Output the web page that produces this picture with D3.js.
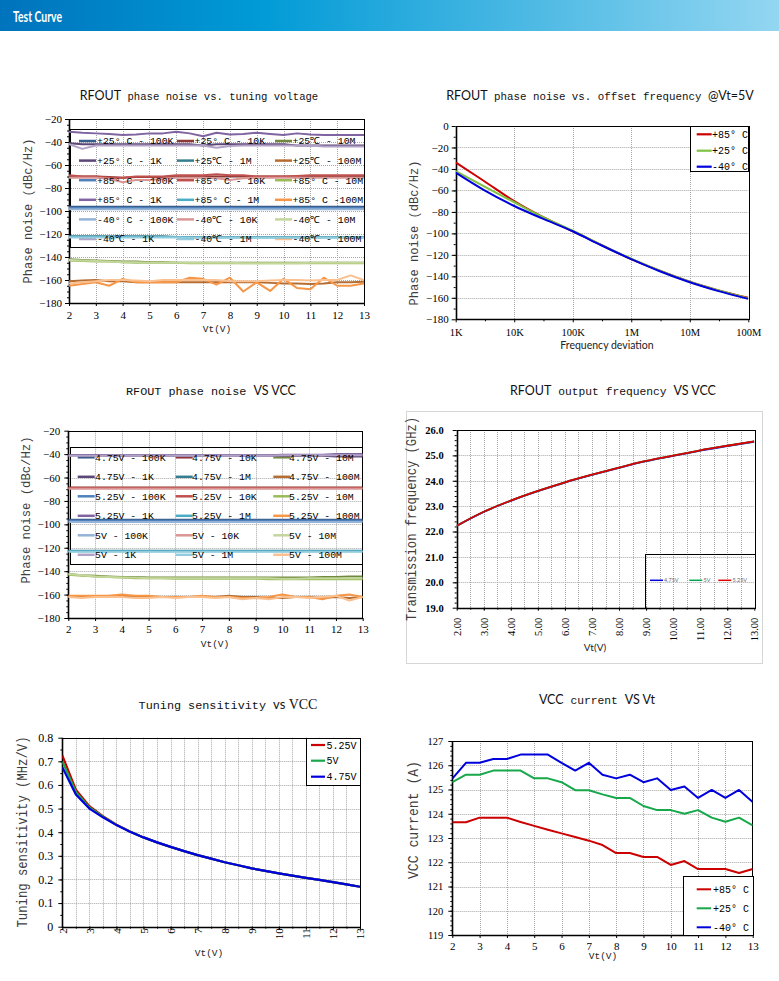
<!DOCTYPE html>
<html><head><meta charset="utf-8">
<script src="https://cdn.jsdelivr.net/npm/d3@7"></script>
<style>body{margin:0;background:#fff}svg{display:block}</style>
</head><body>
<script>
const MONO="'Liberation Mono','DejaVu Sans Mono',monospace";
const SERIF="'Liberation Serif','DejaVu Serif',serif";
const SANS="Lato,'Open Sans','Liberation Sans',sans-serif";

// ---------- shared x values ----------
const VT=[2,2.5,3,3.5,4,4.5,5,5.5,6,6.5,7,7.5,8,8.5,9,9.5,10,10.5,11,11.5,12,12.5,13];
const VT_INT=[2,3,4,5,6,7,8,9,10,11,12,13];

// ---------- Panel 1: phase noise vs tuning voltage ----------
const p1_names=["+25° C - 100K","+25° C - 10K","+25℃ - 10M","+25° C - 1K","+25℃ - 1M","+25℃ - 100M",
  "+85° C - 100K","+85° C - 10K","+85° C - 10M","+85° C - 1K","+85° C - 1M","+85° C -100M",
  "-40° C - 100K","-40℃ - 10K","-40℃ - 10M","-40℃ - 1K","-40℃ - 1M","-40℃ - 100M"];
const p1_colors=["#385D8A","#8C3836","#71893F","#5C4776","#357D91","#B66D31",
  "#4F81BD","#C0504D","#9BBB59","#8064A2","#4BACC6","#F79646",
  "#95B3D7","#D99694","#C3D69B","#B3A2C7","#93CDDD","#FAC090"];
const p1_25_100K=[-96.3,-96.3,-96.3,-96.3,-96.3,-96.3,-96.3,-96.3,-96.3,-96.3,-96.3,-96.3,-96.3,-96.3,-96.3,-96.3,-96.3,-96.3,-96.3,-96.3,-96.3,-96.3,-96.3];
const p1_25_10K=[-70,-70,-70,-70.5,-71,-70.5,-70.5,-70.5,-70,-70,-70,-70,-70,-70,-70,-70,-70,-70,-70,-70,-70,-70,-69.5];
const p1_25_10M=[-142,-142.5,-143,-143.5,-144,-144,-144.5,-144.5,-145,-145,-145,-145,-145,-145,-145,-145,-145,-145,-145,-145,-145,-145,-145];
const p1_25_1K=[-41,-42,-42,-42,-42,-42,-42,-42,-42,-42,-43,-42,-42,-42,-42,-42,-42,-43,-43,-43,-43,-43,-43];
const p1_25_1M=[-122,-122,-122,-122,-122,-122,-122,-122,-122.5,-122.5,-122.5,-122.5,-122.5,-122.5,-122.5,-122.5,-122.5,-122.5,-122.5,-122.5,-122.5,-122.5,-122.5];
const p1_25_100M=[-161,-160.5,-160,-161,-161,-162,-162,-162,-162,-162,-162,-162,-162,-162,-162,-162.5,-163,-163,-163.5,-163,-162,-162,-161.5];
const p1_85_100K=[-97.3,-97.3,-97.3,-97.3,-97.3,-97.3,-97.3,-97.3,-97.3,-97.3,-97.3,-97.3,-97.3,-97.3,-97.3,-97.3,-97.3,-97.3,-97.3,-97.3,-97.3,-97.3,-97.3];
const p1_85_10K=[-69,-70,-70,-71,-71,-70,-70,-70,-69,-69,-69,-68,-69,-69,-70,-70,-70,-69.5,-69,-69,-69,-69,-69];
const p1_85_10M=[-143,-143.5,-144,-144,-144.5,-145,-145,-145,-145,-145.5,-145.5,-145.5,-145.5,-145.5,-145.5,-145.5,-145.5,-145.5,-145.5,-145.5,-145.5,-145.5,-145.5];
const p1_85_1K=[-31,-32,-32.5,-33,-34,-33.5,-32.5,-32.5,-31,-32.5,-35,-32,-33.5,-33,-32,-33,-34,-32.5,-33.5,-34,-34,-34,-34];
const p1_85_1M=[-122.5,-122.5,-122.5,-122.5,-122.5,-122.5,-122.5,-122.5,-122.5,-123,-123,-123,-123,-123,-123,-123,-123,-123,-123,-123,-123,-123,-123];
const p1_85_100M=[-165,-163.5,-162,-165,-159,-162,-162,-162,-162,-158,-159,-164,-158,-170,-162,-169.5,-159,-167,-168,-158,-165,-165,-163];
const p1_m40_100K=[-98.4,-98.4,-98.4,-98.4,-98.4,-98.4,-98.4,-98.4,-98.4,-98.4,-98.4,-98.4,-98.4,-98.4,-98.4,-98.4,-98.4,-98.4,-98.4,-98.4,-98.4,-98.4,-98.4];
const p1_m40_10K=[-71,-71,-71,-72,-75,-73,-73,-72,-71,-71,-71,-71.5,-73,-71.5,-71,-71,-71,-71,-71,-71,-71,-71,-71];
const p1_m40_10M=[-142.5,-143,-143.5,-144,-144.5,-144.5,-145,-145,-145,-145,-145,-145,-145,-145.5,-145.5,-145.5,-145.5,-145.5,-145,-145,-145,-145,-145];
const p1_m40_1K=[-42,-46,-43,-43,-43,-43,-43,-43,-43,-43,-43,-45,-43.5,-43,-43,-43,-43,-43,-43,-44,-44,-44,-44];
const p1_m40_1M=[-123,-123,-123,-123,-123,-123,-123,-123,-123,-123,-123,-123,-123,-123,-123,-123,-123,-123,-123,-123,-123,-123,-123];
const p1_m40_100M=[-163,-162,-161,-160,-160,-160.5,-161,-160,-160,-160,-160,-160,-161,-161,-161,-160.5,-160,-160,-160.5,-160,-160,-156,-160];
const p1_values=[p1_25_100K,p1_25_10K,p1_25_10M,p1_25_1K,p1_25_1M,p1_25_100M,
  p1_85_100K,p1_85_10K,p1_85_10M,p1_85_1K,p1_85_1M,p1_85_100M,
  p1_m40_100K,p1_m40_10K,p1_m40_10M,p1_m40_1K,p1_m40_1M,p1_m40_100M];

// ---------- Panel 2: phase noise vs offset ----------
const p2_offsets=[1e3,3e3,1e4,3e4,1e5,3e5,1e6,3e6,1e7,3e7,1e8];
const p2_tickVals=[1e3,1e4,1e5,1e6,1e7,1e8];
const p2_tickLabels=["1K","10K","100K","1M","10M","100M"];
const p2_names=["+85° C","+25° C","-40° C"];
const p2_colors=["#CC0000","#7DC242","#0000DD"];
const p2_85=[-34,-51,-70,-84.5,-98,-110.5,-124,-134.5,-145,-152.8,-160];
const p2_25=[-42,-56,-71,-84.5,-97.5,-110.5,-123.5,-134.5,-145,-153,-160.5];
const p2_m40=[-43.5,-59.5,-74.5,-86,-98,-110.8,-124,-135,-145.5,-153.5,-161];

// ---------- Panel 3: phase noise vs VCC ----------
const p3_names=["4.75V - 100K","4.75V - 10K","4.75V - 10M","4.75V - 1K","4.75V - 1M","4.75V - 100M",
  "5.25V - 100K","5.25V - 10K","5.25V - 10M","5.25V - 1K","5.25V - 1M","5.25V - 100M",
  "5V - 100K","5V - 10K","5V - 10M","5V - 1K","5V - 1M","5V - 100M"];
const p3_colors=p1_colors;
const p3_475_100K=[-96,-96,-96,-96,-96,-96,-96,-96,-96,-96,-96,-96,-96,-96,-96,-96,-96,-96,-96,-96,-96,-96,-96];
const p3_475_10K=[-68.5,-68.5,-68.5,-68.5,-68.5,-68.5,-68.5,-68.5,-68.5,-68.5,-68.5,-68.5,-68.5,-68.5,-68.5,-68.5,-68.5,-68.5,-68.5,-68.5,-68.5,-68.5,-68.5];
const p3_475_10M=[-142.5,-143.5,-144,-144.5,-145,-145,-145.5,-145.5,-145.5,-145.5,-145.5,-145.5,-145.5,-145.5,-145.5,-145.5,-145.5,-145.5,-145.5,-145,-145,-144.5,-144.5];
const p3_475_1K=[-41,-41,-41,-41.5,-41.5,-41.5,-41.5,-41.5,-41.5,-41.5,-41.5,-41.5,-41.5,-41.5,-41.5,-41.5,-41.5,-41.5,-41.5,-41.5,-42,-42,-42];
const p3_475_1M=[-122.5,-122.5,-122.5,-122.5,-122.5,-122.5,-122.5,-122.5,-122.5,-122.5,-122.5,-122.5,-122.5,-122.5,-122.5,-122.5,-122.5,-122.5,-122.5,-122.5,-122.5,-122.5,-122.5];
const p3_475_100M=[-162,-162,-161.5,-161.5,-161,-162,-162,-162,-162,-162,-162,-162,-161,-162,-162,-163,-163,-162,-162,-163,-162,-163,-162];
const p3_525_100K=[-97,-97,-97,-97,-97,-97,-97,-97,-97,-97,-97,-97,-97,-97,-97,-97,-97,-97,-97,-97,-97,-97,-97];
const p3_525_10K=[-69,-69,-69,-69,-69,-69,-69,-69,-69,-69,-69,-69,-69,-69,-69,-69,-69,-69,-69,-69,-69,-69,-69];
const p3_525_10M=[-143,-144,-144.5,-145,-145.5,-146,-146,-146,-146.5,-146.5,-146.5,-146.5,-146.5,-146.5,-146.5,-147,-147,-147,-147,-147,-147,-147,-147];
const p3_525_1K=[-41,-41,-41,-41,-41,-41,-41,-41,-41,-41,-41,-41,-41,-41,-41,-41,-40.5,-40.5,-40.5,-40.5,-40,-40,-40];
const p3_525_1M=[-123,-123,-123,-123,-123,-123,-123,-123,-123,-123,-123,-123,-123,-123,-123,-123,-123,-123,-123,-123,-123,-123,-123];
const p3_525_100M=[-161,-161,-161,-161,-160,-161,-161,-162,-162,-162,-161,-162,-162,-163,-163,-162,-160,-162,-162,-164,-161,-160,-162];
const p3_5_100K=[-98,-98,-98,-98,-98,-98,-98,-98,-98,-98,-98,-98,-98,-98,-98,-98,-98,-98,-98,-98,-98,-98,-98];
const p3_5_10K=[-69.5,-69.5,-69.5,-69.5,-69.5,-69.5,-69.5,-69.5,-69.5,-69.5,-69.5,-69.5,-69.5,-69.5,-69.5,-69.5,-69.5,-69.5,-69.5,-69.5,-69.5,-69.5,-69.5];
const p3_5_10M=[-142.5,-143.5,-144.5,-145,-145.5,-145.5,-146,-146,-146,-146,-146,-146,-146,-146,-146,-146,-146.5,-146.5,-146,-146,-146,-146,-146];
const p3_5_1K=[-41.5,-41.5,-41.5,-41.5,-41.5,-41.5,-41.5,-41.5,-41.5,-41.5,-41.5,-41.5,-41.5,-41.5,-41.5,-41.5,-41,-41,-41,-41,-41,-41,-41];
const p3_5_1M=[-123.5,-123.5,-123.5,-123.5,-123.5,-123.5,-123.5,-123.5,-123.5,-123.5,-123.5,-123.5,-123.5,-123.5,-123.5,-123.5,-123.5,-123.5,-123.5,-123.5,-123.5,-123.5,-123.5];
const p3_5_100M=[-162,-163,-162,-162,-162,-163,-163,-162,-163,-162,-162,-163,-162,-164,-163,-164,-162,-162,-163,-162,-161,-165,-162];
const p3_values=[p3_475_100K,p3_475_10K,p3_475_10M,p3_475_1K,p3_475_1M,p3_475_100M,
  p3_525_100K,p3_525_10K,p3_525_10M,p3_525_1K,p3_525_1M,p3_525_100M,
  p3_5_100K,p3_5_10K,p3_5_10M,p3_5_1K,p3_5_1M,p3_5_100M];

// ---------- Panel 4: output frequency ----------
const p4_names=["4.75V","5V","5.25V"];
const p4_colors=["#0000DD","#00A650","#DD0000"];
const p4_475=[22.22,22.77,23.21,23.59,23.93,24.23,24.51,24.77,24.98,25.19,25.37,25.54];
const p4_5=[22.23,22.78,23.22,23.6,23.94,24.24,24.52,24.78,24.99,25.2,25.38,25.55];
const p4_525=[22.23,22.78,23.22,23.6,23.94,24.24,24.52,24.78,24.99,25.2,25.38,25.55];

// ---------- Panel 5: tuning sensitivity ----------
const p5_names=["5.25V","5V","4.75V"];
const p5_colors=["#CC0000","#16A84A","#0000DD"];
const p5_525=[0.725,0.58,0.51,0.468,0.432,0.403,0.378,0.357,0.338,0.32,0.303,0.288,0.273,0.26,0.247,0.236,0.226,0.216,0.207,0.198,0.189,0.179,0.169];
const p5_5=[0.70,0.57,0.505,0.466,0.431,0.403,0.378,0.357,0.338,0.32,0.303,0.288,0.273,0.26,0.247,0.236,0.226,0.216,0.207,0.198,0.189,0.179,0.169];
const p5_475=[0.675,0.56,0.5,0.463,0.43,0.402,0.378,0.357,0.338,0.32,0.303,0.288,0.273,0.26,0.247,0.236,0.226,0.216,0.207,0.198,0.189,0.179,0.169];

// ---------- Panel 6: VCC current ----------
const p6_names=["+85° C","+25° C","-40° C"];
const p6_colors=["#CC0000","#16A84A","#0000DD"];
const p6_85=[123.65,123.65,123.84,123.84,123.84,123.66,123.5,123.34,123.19,123.04,122.89,122.71,122.38,122.38,122.22,122.22,121.89,122.05,121.72,121.72,121.72,121.56,121.72];
const p6_25=[125.3,125.61,125.61,125.78,125.78,125.78,125.46,125.46,125.3,124.97,124.97,124.8,124.65,124.65,124.32,124.15,124.15,124.0,124.15,123.84,123.67,123.84,123.52];
const p6_m40=[125.45,126.1,126.1,126.26,126.26,126.44,126.44,126.44,126.1,125.78,126.1,125.61,125.46,125.61,125.3,125.46,124.98,125.12,124.65,124.98,124.65,124.98,124.48];

// =====================================================================
const svg=d3.select("body").append("svg").attr("width",779).attr("height",981);
const defs=svg.append("defs");
const lg=defs.append("linearGradient").attr("id","hdr").attr("x1",0).attr("x2",1).attr("y1",0).attr("y2",0);
lg.append("stop").attr("offset","0").attr("stop-color","#0073BD");
lg.append("stop").attr("offset","0.33").attr("stop-color","#009AD6");
lg.append("stop").attr("offset","1").attr("stop-color","#93D6F1");
svg.append("rect").attr("x",0).attr("y",0).attr("width",779).attr("height",31).attr("fill","url(#hdr)");
svg.append("text").attr("x",13).attr("y",21.5).text("Test Curve").attr("fill","#fff")
  .attr("font-family",SANS).attr("font-weight","bold").attr("font-size",15)
  .attr("textLength",49).attr("lengthAdjust","spacingAndGlyphs");

const px=v=>Math.round(v)+0.5;
let clipId=0;

function panel(o){
  const g=svg.append("g");
  const x=o.x,y=o.y;
  const [X0,X1]=x.range(); const [Y1,Y0]=y.range();
  const grid=g.append("g").attr("stroke","#a8a8a8").attr("stroke-dasharray","1,1").attr("stroke-width",1);
  o.xGrid.forEach(v=>grid.append("line").attr("x1",px(x(v))).attr("x2",px(x(v))).attr("y1",Y0).attr("y2",Y1));
  o.yGrid.forEach(v=>grid.append("line").attr("y1",px(y(v))).attr("y2",px(y(v))).attr("x1",X0).attr("x2",X1));
  const ya=g.append("g").attr("transform",`translate(${X0},0)`)
    .call(d3.axisLeft(y).tickValues(o.yTicks).tickSize(4).tickPadding(o.yPad).tickFormat(o.yFmt));
  ya.select(".domain").remove();
  ya.selectAll("text").attr("font-family",SERIF).attr("font-size",o.yFs).attr("fill","#000")
    .attr("font-weight",o.yBold?"bold":"normal");
  if(o.yMinor){const m=g.append("g").attr("transform",`translate(${X0},0)`).call(d3.axisLeft(y).tickValues(o.yMinor).tickSize(2).tickFormat(""));m.select(".domain").remove();}
  const xa=g.append("g").attr("transform",`translate(0,${Y1})`)
    .call(d3.axisBottom(x).tickValues(o.xTicks).tickSize(3).tickPadding(o.xPad).tickFormat(o.xFmt));
  xa.select(".domain").remove();
  xa.selectAll("text").attr("font-family",o.xFont||SERIF).attr("font-size",o.xFs).attr("fill","#000")
    .attr("font-weight",o.xBold?"bold":"normal");
  if(o.xRot!==undefined){
    xa.selectAll("text").attr("transform","rotate(-90)").attr("x",-o.xRot).attr("y",0).attr("dy","0.35em").style("text-anchor","end");
  }
  if(o.xMinor){const m=g.append("g").attr("transform",`translate(0,${Y1})`).call(d3.axisBottom(x).tickValues(o.xMinor).tickSize(2).tickFormat(""));m.select(".domain").remove();}
  g.append("rect").attr("x",px(X0)).attr("y",px(Y0)).attr("width",Math.round(X1-X0)).attr("height",Math.round(Y1-Y0))
    .attr("fill","none").attr("stroke","#000").attr("stroke-width",1);
  g.append("path").attr("d",`M${px(X0)},${Y0}V${px(Y1)}H${X1}`).attr("stroke","#000").attr("stroke-width",1.6).attr("fill","none");
  const id="clip"+(clipId++);
  defs.append("clipPath").attr("id",id).append("rect").attr("x",X0).attr("y",Y0).attr("width",X1-X0).attr("height",Y1-Y0);
  const t=svg.append("text").attr("x",o.title.x).attr("y",o.title.y).attr("text-anchor","middle").attr("fill","#111");
  o.title.parts.forEach(p=>t.append("tspan").text(p[0]).attr("font-family",p[1]).attr("font-size",p[2]));
  svg.append("text").attr("transform",`translate(${o.yTitle.x},${o.yTitle.y}) rotate(-90)`).attr("text-anchor","middle")
    .attr("font-family",o.yTitle.font||MONO).attr("font-size",o.yTitle.fs).attr("fill","#3f3f3f").attr("dy","0.35em")
    .attr("textLength",o.yTitle.len).attr("lengthAdjust","spacingAndGlyphs").text(o.yTitle.text);
  svg.append("text").attr("x",o.xTitle.x).attr("y",o.xTitle.y).attr("text-anchor","middle")
    .attr("font-family",o.xTitle.font).attr("font-size",o.xTitle.fs).attr("fill","#222").text(o.xTitle.text);
  return {g,x,y,clip:id};
}

function drawSeries(P,xs,ys,color,w,curve){
  P.g.append("path").datum(xs.map((v,i)=>[v,ys[i]])).attr("clip-path",`url(#${P.clip})`)
    .attr("fill","none").attr("stroke",color).attr("stroke-width",w).attr("stroke-linejoin","round")
    .attr("d",d3.line().x(d=>P.x(d[0])).y(d=>P.y(d[1])).curve(curve||d3.curveLinear));
}

function legendBox(P,b,fill){
  P.g.append("rect").attr("x",px(b.x0)).attr("y",px(b.y0)).attr("width",Math.round(b.x1-b.x0)).attr("height",Math.round(b.y1-b.y0))
    .attr("fill",fill||"none").attr("stroke","#000").attr("stroke-width",1);
}

const fmtInt=d3.format("d");

// ---------------- Panel 1 ----------------
{
  const x=d3.scaleLinear().domain([2,13]).range([69,364]);
  const y=d3.scaleLinear().domain([-180,-20]).range([303,119]);
  const P=panel({x,y,xGrid:d3.range(3,13),yGrid:d3.range(-160,-20,20),
    yTicks:d3.range(-180,-19,20),yFmt:fmtInt,yPad:3,yFs:11,yMinor:d3.range(-175,-20,5),
    xTicks:VT_INT,xFmt:fmtInt,xPad:5,xFs:11,
    title:{x:199,y:100,parts:[["RFOUT",SANS,12.5],[" phase noise vs. tuning voltage",MONO,10.6]]},
    yTitle:{x:27,y:211,text:"Phase noise (dBc/Hz)",fs:13.5,len:145},
    xTitle:{x:217,y:332,text:"Vt(V)",font:MONO,fs:9.5}});
  legendBox(P,{x0:70,x1:364,y0:129,y1:247});
  const lx=[79,177,275], tx=[97,194.5,292.5];
  p1_names.forEach((n,i)=>{const r=Math.floor(i/3),c=i%3,yy=141+r*19.6;
    P.g.append("line").attr("x1",lx[c]).attr("x2",lx[c]+17).attr("y1",yy).attr("y2",yy).attr("stroke",p1_colors[i]).attr("stroke-width",2.5);});
  p1_values.forEach((v,i)=>drawSeries(P,VT,v,p1_colors[i],2));
  p1_names.forEach((n,i)=>{const r=Math.floor(i/3),c=i%3,yy=141+r*19.6;
    P.g.append("text").attr("x",tx[c]).attr("y",yy).attr("dy","0.35em").attr("font-family",MONO).attr("font-size",9.8).attr("fill","#000").text(n);});
}

// ---------------- Panel 2 ----------------
{
  const x=d3.scaleLog().domain([1e3,1e8]).range([455.7,748.3]);
  const y=d3.scaleLinear().domain([-180,0]).range([319.3,126]);
  const P=panel({x,y,xGrid:[1e4,1e5,1e6,1e7],yGrid:d3.range(-160,0,20),
    yTicks:d3.range(-180,1,20),yFmt:fmtInt,yPad:3,yFs:11,yMinor:d3.range(-170,0,10),
    xTicks:p2_tickVals,xFmt:(d,i)=>p2_tickLabels[i],xPad:6,xFs:10.5,xMinor:[3.162e3,3.162e4,3.162e5,3.162e6,3.162e7],
    title:{x:600,y:100,parts:[["RFOUT",SANS,12.5],[" phase noise vs. offset frequency ",MONO,10.8],["@Vt=5V",SANS,12.5]]},
    yTitle:{x:413,y:233,text:"Phase noise (dBc/Hz)",fs:13.5,len:145},
    xTitle:{x:607,y:349,text:"Frequency deviation",font:SANS,fs:10.5}});
  [p2_85,p2_25,p2_m40].forEach((v,i)=>drawSeries(P,p2_offsets,v,p2_colors[i],2,d3.curveMonotoneX));
  legendBox(P,{x0:690,x1:748.3,y0:126,y1:170.7},"#fff");
  p2_names.forEach((n,i)=>{const yy=[134.3,150.7,166.7][i];
    P.g.append("line").attr("x1",696.7).attr("x2",711.7).attr("y1",yy).attr("y2",yy).attr("stroke",p2_colors[i]).attr("stroke-width",2.2);
    P.g.append("text").attr("x",712).attr("y",yy).attr("dy","0.35em").attr("font-family",MONO).attr("font-size",10).attr("fill","#000").text(n);});
}

// ---------------- Panel 3 ----------------
{
  const x=d3.scaleLinear().domain([2,13]).range([68.3,362.7]);
  const y=d3.scaleLinear().domain([-180,-20]).range([618,430.7]);
  const P=panel({x,y,xGrid:d3.range(3,13),yGrid:d3.range(-160,-20,20),
    yTicks:d3.range(-180,-19,20),yFmt:fmtInt,yPad:4,yFs:11,yMinor:d3.range(-175,-20,5),
    xTicks:VT_INT,xFmt:fmtInt,xPad:4,xFs:11,
    title:{x:211,y:395,parts:[["RFOUT phase noise ",MONO,11.8],["VS VCC",SANS,12.5]]},
    yTitle:{x:25,y:510,text:"Phase noise (dBc/Hz)",fs:13.5,len:147},
    xTitle:{x:215,y:647,text:"Vt(V)",font:MONO,fs:9.5}});
  legendBox(P,{x0:70,x1:361.7,y0:446.7,y1:563.7});
  const lx=[77.7,175.7,273.3], tx=[95,192,289];
  p3_names.forEach((n,i)=>{const r=Math.floor(i/3),c=i%3,yy=457.3+r*19.5;
    P.g.append("line").attr("x1",lx[c]).attr("x2",lx[c]+17).attr("y1",yy).attr("y2",yy).attr("stroke",p3_colors[i]).attr("stroke-width",2.5);});
  p3_values.forEach((v,i)=>drawSeries(P,VT,v,p3_colors[i],2));
  p3_names.forEach((n,i)=>{const r=Math.floor(i/3),c=i%3,yy=457.3+r*19.5;
    P.g.append("text").attr("x",tx[c]).attr("y",yy).attr("dy","0.35em").attr("font-family",MONO).attr("font-size",9.8).attr("fill","#000").text(n);});
}

// ---------------- Panel 4 ----------------
{
  svg.append("rect").attr("x",406.5).attr("y",411.5).attr("width",356).attr("height",252).attr("fill","none").attr("stroke","#d6d6d6");
  const x=d3.scaleLinear().domain([2,13]).range([456.7,754.3]);
  const y=d3.scaleLinear().domain([19,26]).range([607.7,430]);
  const P=panel({x,y,xGrid:d3.range(2.5,13,0.5),yGrid:d3.range(20,26,1),
    yTicks:d3.range(19,26.01,1),yFmt:d3.format(".1f"),yPad:9,yFs:10.5,yBold:true,yMinor:d3.range(19.2,26,0.2),
    xTicks:VT_INT,xFmt:d3.format(".2f"),xPad:4,xFs:10.5,xRot:10,xMinor:d3.range(2.5,13,0.5),
    title:{x:613,y:395,parts:[["RFOUT",SANS,12.5],[" output frequency ",MONO,11.3],["VS VCC",SANS,12.5]]},
    yTitle:{x:411,y:519,text:"Transmission frequency (GHz)",fs:14,len:204},
    xTitle:{x:595,y:651,text:"Vt(V)",font:SANS,fs:10}});
  legendBox(P,{x0:644.7,x1:754.3,y0:554,y1:607.7});
  [p4_475,p4_5,p4_525].forEach((v,i)=>drawSeries(P,VT_INT,v,p4_colors[i],1.8,d3.curveMonotoneX));
  const lx=[650,689.3,718.3], tx=[664,703.5,732.5];
  p4_names.forEach((n,i)=>{const yy=580.3;
    P.g.append("line").attr("x1",lx[i]).attr("x2",lx[i]+13).attr("y1",yy).attr("y2",yy).attr("stroke",p4_colors[i]).attr("stroke-width",1.5);
    P.g.append("text").attr("x",tx[i]).attr("y",yy).attr("dy","0.35em").attr("font-family",SANS).attr("font-size",5.5).attr("fill","#666").text(n);});
}

// ---------------- Panel 5 ----------------
{
  const x=d3.scaleLinear().domain([2,13]).range([62.3,360]);
  const y=d3.scaleLinear().domain([0,0.8]).range([926.7,737.7]);
  const P=panel({x,y,xGrid:d3.range(2.5,13,0.5),yGrid:d3.range(0.1,0.8,0.1),
    yTicks:d3.range(0,0.81,0.1),yFmt:d=>d<0.001?"0":d3.format(".1f")(d),yPad:5,yFs:12,yMinor:d3.range(0.05,0.8,0.05),
    xTicks:VT_INT,xFmt:fmtInt,xPad:2,xFs:11,xRot:1.5,xMinor:d3.range(2.5,13,0.5),
    title:{x:228,y:708.5,parts:[["Tuning sensitivity ",MONO,11.8],["vs ",SANS,13],["VCC",SERIF,14]]},
    yTitle:{x:22,y:832,text:"Tuning sensitivity (MHz/V)",fs:14,len:191},
    xTitle:{x:209,y:956,text:"Vt(V)",font:MONO,fs:9.5}});
  [p5_525,p5_5,p5_475].forEach((v,i)=>drawSeries(P,VT,v,p5_colors[i],2.2));
  legendBox(P,{x0:305.7,x1:360,y0:737.7,y1:784.3},"#fff");
  p5_names.forEach((n,i)=>{const yy=[745,760.7,776.7][i];
    P.g.append("line").attr("x1",311).attr("x2",325).attr("y1",yy).attr("y2",yy).attr("stroke",p5_colors[i]).attr("stroke-width",2.2);
    P.g.append("text").attr("x",326.5).attr("y",yy).attr("dy","0.35em").attr("font-family",MONO).attr("font-size",10).attr("fill","#000").text(n);});
}

// ---------------- Panel 6 ----------------
{
  const x=d3.scaleLinear().domain([2,13]).range([452.3,752.7]);
  const y=d3.scaleLinear().domain([119,127]).range([935,741]);
  const P=panel({x,y,xGrid:d3.range(3,13),yGrid:d3.range(120,127),
    yTicks:d3.range(119,127.1,1),yFmt:fmtInt,yPad:5,yFs:10.5,yMinor:d3.range(119.2,127,0.2),
    xTicks:VT_INT,xFmt:fmtInt,xPad:4,xFs:11,
    title:{x:597,y:704,parts:[["VCC",SANS,12.5],[" current ",MONO,11.3],["VS Vt",SANS,12.5]]},
    yTitle:{x:413,y:820,text:"VCC current (A)",fs:14,len:118},
    xTitle:{x:603,y:959,text:"Vt(V)",font:MONO,fs:9.5}});
  [p6_85,p6_25,p6_m40].forEach((v,i)=>drawSeries(P,VT,v,p6_colors[i],2));
  legendBox(P,{x0:682.7,x1:752.7,y0:876,y1:935},"#fff");
  p6_names.forEach((n,i)=>{const yy=[889.3,908.3,927.3][i];
    P.g.append("line").attr("x1",696.7).attr("x2",711).attr("y1",yy).attr("y2",yy).attr("stroke",p6_colors[i]).attr("stroke-width",2);
    P.g.append("text").attr("x",713).attr("y",yy).attr("dy","0.35em").attr("font-family",MONO).attr("font-size",10).attr("fill","#000").text(n);});
}
</script>
</body></html>
